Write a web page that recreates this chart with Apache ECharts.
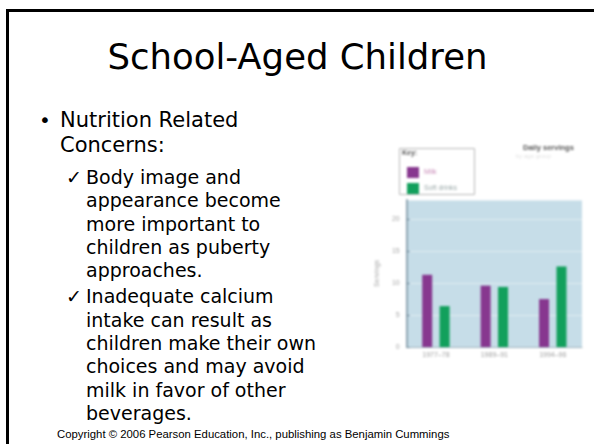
<!DOCTYPE html>
<html>
<head>
<meta charset="utf-8">
<script src="https://cdn.jsdelivr.net/npm/echarts@6/dist/echarts.min.js"></script>
<style>
  html, body { margin: 0; padding: 0; background: #fff; width: 594px; height: 444px; overflow: hidden; }
  #frame { position: absolute; left: 6px; top: 9px; width: 620px; height: 460px;
           border-left: 3px solid #000; border-top: 3px solid #000; }
  #slide { position: absolute; left: 0; top: 0; }
  #chart { position: absolute; left: 366px; top: 138px; width: 224px; height: 232px; filter: blur(0.9px); }
</style>
</head>
<body>
<div id="frame"></div>
<svg id="slide" width="594" height="444" font-family="DejaVu Sans, Verdana, sans-serif" fill="#000">
  <text x="297.5" y="69" font-size="35.5" text-anchor="middle">School-Aged Children</text>

  <text x="39" y="127" font-size="20">•</text>
  <text x="60" y="127" font-size="21">Nutrition Related</text>
  <text x="60" y="152" font-size="21">Concerns:</text>

  <text x="66" y="184" font-size="19">✓</text>
  <text x="86" y="184" font-size="19">Body image and</text>
  <text x="86" y="207.3" font-size="19">appearance become</text>
  <text x="86" y="230.6" font-size="19">more important to</text>
  <text x="86" y="253.9" font-size="19">children as puberty</text>
  <text x="86" y="277.2" font-size="19">approaches.</text>

  <text x="66" y="303.3" font-size="19">✓</text>
  <text x="86" y="303.3" font-size="19">Inadequate calcium</text>
  <text x="86" y="326.6" font-size="19">intake can result as</text>
  <text x="86" y="349.9" font-size="19">children make their own</text>
  <text x="86" y="373.2" font-size="19">choices and may avoid</text>
  <text x="86" y="396.5" font-size="19">milk in favor of other</text>
  <text x="86" y="419.8" font-size="19">beverages.</text>

  <text x="57" y="438" font-size="11.35" font-family="Liberation Sans, Arial, sans-serif">Copyright © 2006 Pearson Education, Inc., publishing as Benjamin Cummings</text>
</svg>
<div id="chart"></div>
<script>
// Average daily intake by survey period
const categories = ['1977–78', '1989–91', '1994–96'];
const milk = [11.3, 9.6, 7.5];
const softDrinks = [6.4, 9.4, 12.6];
const yTickStep = 5;
const yMax = 23;

const chart = echarts.init(document.getElementById('chart'), null, { renderer: 'canvas' });

chart.setOption({
  animation: false,
  backgroundColor: '#fff',
  textStyle: { fontFamily: 'Liberation Sans, Arial, sans-serif' },
  grid: { left: 30, top: 62, right: 8, bottom: 23, show: true, backgroundColor: '#c6dde8', borderWidth: 0 },
  legend: {
    orient: 'vertical',
    left: 36, top: 24,
    itemWidth: 12, itemHeight: 11, itemGap: 5,
    icon: 'rect',
    textStyle: { fontSize: 7 },
    data: [
      { name: 'Milk', textStyle: { color: '#c98cb8' } },
      { name: 'Soft drinks', textStyle: { color: '#9aa8a8' } }
    ]
  },
  graphic: [
    { type: 'rect', left: 31, top: 8, shape: { width: 75, height: 46 },
      style: { fill: 'none', stroke: '#b8b8b8', lineWidth: 1 } },
    { type: 'text', left: 36, top: 12,
      style: { text: 'Key:', fontSize: 7, fontWeight: 'bold', fill: '#555' } },
    { type: 'text', left: 157, top: 6,
      style: { text: 'Daily servings', fontSize: 7.5, fontWeight: 'bold', fill: '#555' } },
    { type: 'text', left: 150, top: 15,
      style: { text: 'by age group', fontSize: 6, fill: '#e2e2e2' } }
  ],
  xAxis: {
    type: 'category',
    data: categories,
    axisLine: { lineStyle: { color: '#9fb3bd', width: 1 } },
    axisTick: { show: false },
    axisLabel: { fontSize: 7, color: '#a0a0a0', margin: 5 }
  },
  yAxis: {
    type: 'value',
    min: 0, max: yMax, interval: yTickStep,
    name: 'Servings',
    nameLocation: 'middle',
    nameRotate: 90,
    nameGap: 22,
    nameTextStyle: { fontSize: 7, color: '#a8a8a8' },
    axisLine: { show: true, lineStyle: { color: '#8fa6b3', width: 2 } },
    axisTick: { show: true, length: 3, inside: true, lineStyle: { color: '#6d8796' } },
    axisLabel: { fontSize: 7, color: '#a8a8a8', margin: 7, showMaxLabel: false },
    splitLine: { show: true, lineStyle: { color: 'rgba(255,255,255,0.45)', width: 1 } }
  },
  series: [
    { name: 'Milk', type: 'bar', data: milk, barWidth: 10, barGap: '74%',
      itemStyle: { color: '#87378f' } },
    { name: 'Soft drinks', type: 'bar', data: softDrinks, barWidth: 10,
      itemStyle: { color: '#12a05c' } }
  ]
});
</script>
</body>
</html>
